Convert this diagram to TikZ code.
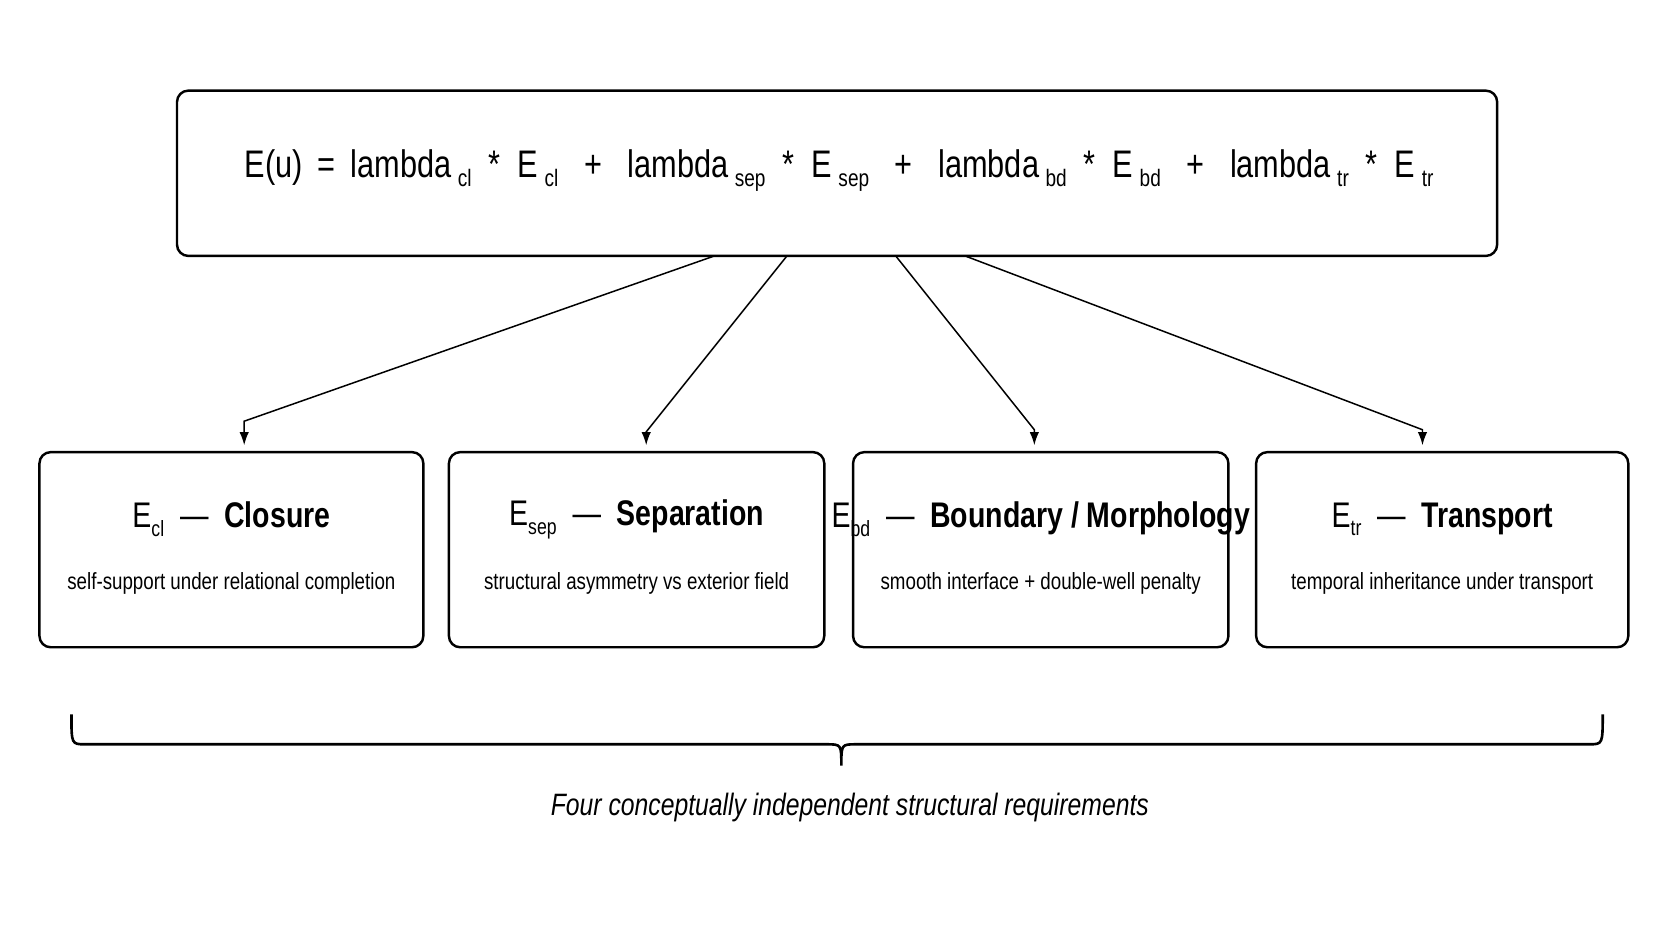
\documentclass[tikz,border=0pt]{standalone}
\usepackage{fontspec}
\usepackage{graphicx}
\usetikzlibrary{arrows.meta}
\setmainfont{Liberation Sans}[FakeStretch=0.8]
\newcommand\sbx[1]{\raisebox{-0.45ex}{\scalebox{0.62}{#1}}}
\begin{document}
\begin{tikzpicture}[x=0.02cm,y=-0.02cm,
  box/.style={draw,line width=1.3pt,rounded corners=6pt,inner sep=0pt},
  arr/.style={-{Latex[length=7pt,width=5pt]},line width=0.8pt},
  ttl/.style={font=\fontsize{19}{22}\selectfont},
  sub/.style={font=\fontsize{12.5}{15}\selectfont}]
\useasboundingbox (0,0) rectangle (1568,882);
\node[box,minimum width=1238*0.02cm,minimum height=155*0.02cm] (top) at (785,162.5) {};
\node (f) at (787,160) {\fontsize{20.5}{24}\selectfont E(u)\, =\, lambda\,\sbx{cl}\ \ *\ \ E\,\sbx{cl}\ \ \ +\ \ \ lambda\,\sbx{sep}\ \ *\ \ E\,\sbx{sep}\ \ \ +\ \ \ lambda\,\sbx{bd}\ \ *\ \ E\,\sbx{bd}\ \ \ +\ \ \ lambda\,\sbx{tr}\ \ *\ \ E\,\sbx{tr}};
\foreach \n/\a/\b/\t/\s in {b1/37/397/{E\sbx{cl}\ \ —\ \ \textbf{Closure}}/{self-support under relational completion},
  b2/421/773/{E\sbx{sep}\ \ —\ \ \textbf{Separation}}/{structural asymmetry vs exterior field},
  b3/800/1152/{E\sbx{bd}\ \ —\ \ \textbf{Boundary / Morphology}}/{smooth interface + double-well penalty},
  b4/1178/1527/{E\sbx{tr}\ \ —\ \ \textbf{Transport}}/{temporal inheritance under transport}}{
  \node[box,minimum width={(\b-\a)*0.02cm},minimum height=183*0.02cm] (\n) at ({(\a+\b)/2},515.5) {};
  \node[ttl] (\n t) at ({(\a+\b)/2},487) {\t};
  \node[sub] (\n s) at ({(\a+\b)/2},547) {\s};
}
\coordinate (k1) at (229,395);\coordinate (k2) at (606,405);
\coordinate (k3) at (970,403);\coordinate (k4) at (1334,403);
\coordinate (s1) at (670,240);\coordinate (s2) at (738,240);
\coordinate (s3) at (840,240);\coordinate (s4) at (905,240);
\foreach \i in {1,2,3,4}{\draw[arr] (s\i) -- (k\i) -- ([yshift=3pt]k\i |- b\i.north);}
\draw[line width=1.4pt] (67,670) .. controls (67,698) .. (80,698) -- (775,698) .. controls (789,698) .. (789,718)
  .. controls (789,698) .. (803,698) -- (1490,698) .. controls (1503,698) .. (1503,670);
\node[font=\fontsize{16.5}{20}\selectfont\itshape] (cap) at (797,757) {Four conceptually independent structural requirements};
\end{tikzpicture}
\end{document}
